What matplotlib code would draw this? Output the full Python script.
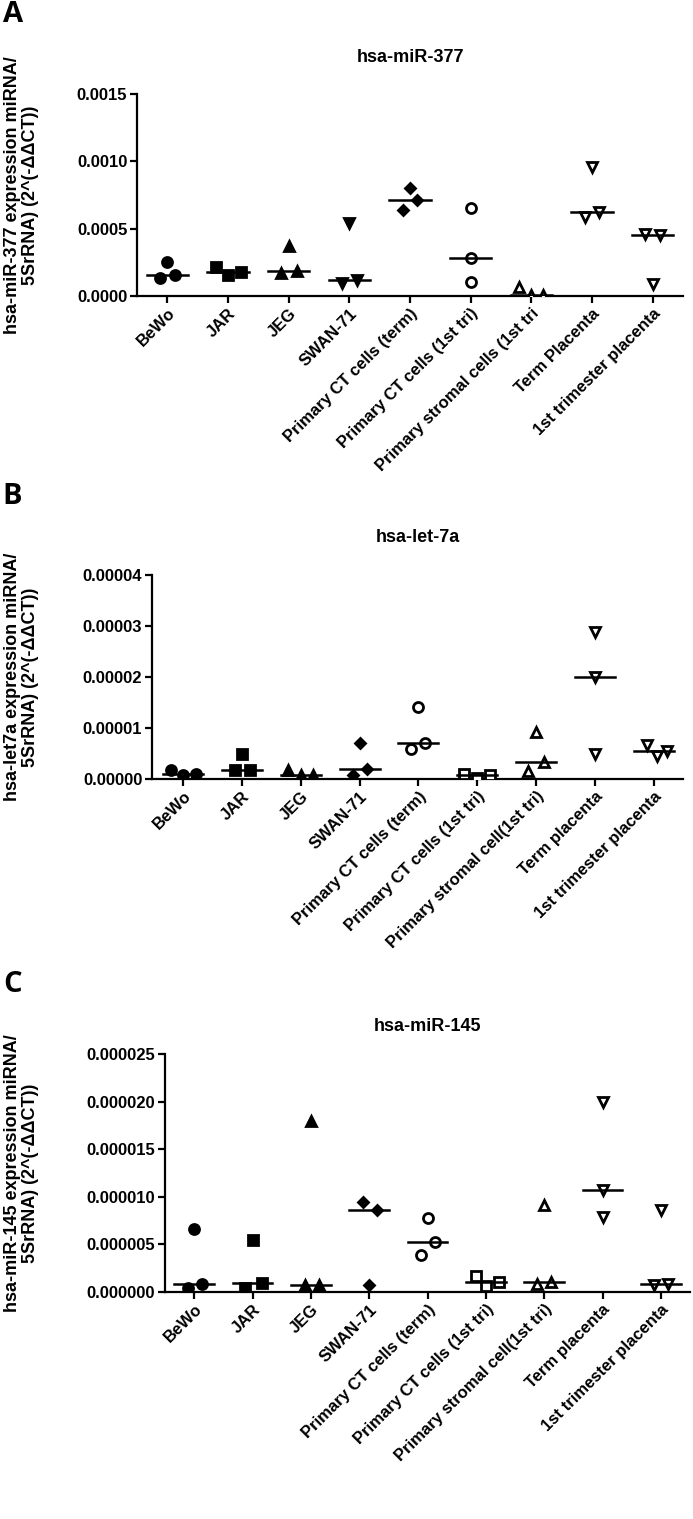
import numpy as np
import matplotlib
matplotlib.use('Agg')
import matplotlib.pyplot as plt

plt.rcParams['font.family'] = ['Liberation Sans', 'DejaVu Sans']
plt.rcParams['font.weight'] = 'bold'

labels_a = ['BeWo', 'JAR', 'JEG', 'SWAN-71', 'Primary CT cells (term)',
            'Primary CT cells (1st tri)', 'Primary stromal cells (1st tri',
            'Term Placenta', '1st trimester placenta']
labels_bc = ['BeWo', 'JAR', 'JEG', 'SWAN-71', 'Primary CT cells (term)',
             'Primary CT cells (1st tri)', 'Primary stromal cell(1st tri)',
             'Term placenta', '1st trimester placenta']

# hsa-miR-377
mir377 = [[0.000256, 0.000131, 0.000153],
          [0.000213, 0.000153, 0.000176],
          [0.000369, 0.000171, 0.000187],
          [0.000540, 0.000098, 0.000122],
          [0.000800, 0.000640, 0.000716],
          [0.000656, 0.000282, 0.000102],
          [0.000064, 0.000004, 0.000011],
          [0.000956, 0.000584, 0.000624],
          [0.000460, 0.000453, 0.000087]]

# hsa-let-7a
let7a = [[0.0000017, 0.0000007, 0.0000009],
         [0.0000049, 0.0000017, 0.0000017],
         [0.0000018, 0.00000086, 0.00000086],
         [0.0000070, 0.00000074, 0.0000020],
         [0.0000141, 0.0000058, 0.0000071],
         [0.0000010, 0.0000002, 0.00000085],
         [0.0000093, 0.0000016, 0.0000034],
         [0.0000289, 0.0000200, 0.0000049],
         [0.0000066, 0.0000045, 0.0000054]]

# hsa-miR-145
mir145 = [[0.00000657, 0.00000042, 0.00000084],
          [0.0000055, 0.00000042, 0.00000094],
          [0.0000180, 0.00000077, 0.00000077],
          [0.00000944, 0.00000077, 0.0000086],
          [0.0000078, 0.0000039, 0.0000052],
          [0.00000164, 0.00000066, 0.0000010],
          [0.0000091, 0.0000008, 0.0000011],
          [0.0000200, 0.0000107, 0.0000079],
          [0.0000086, 0.00000077, 0.00000084]]

# horizontal spread of the points inside each group
off_a = [[0, -0.12, 0.13], [-0.2, 0, 0.22], [0, -0.12, 0.13], [0, -0.12, 0.12],
         [0, -0.12, 0.12], [0, 0, 0], [-0.2, 0, 0.2], [0, -0.12, 0.12], [-0.12, 0.12, 0]]
off_b = [[-0.2, 0, 0.22], [0, -0.12, 0.14], [-0.22, 0, 0.2], [0, -0.12, 0.12],
         [0, -0.12, 0.12], [-0.22, 0, 0.22], [0, -0.13, 0.13], [0, 0, 0], [-0.12, 0.05, 0.22]]
off_c = [[0, -0.11, 0.13], [0, -0.13, 0.16], [0, -0.1, 0.14], [-0.1, 0, 0.13],
         [0, -0.11, 0.13], [-0.17, 0, 0.23], [0, -0.12, 0.12], [0, 0, 0], [0, -0.12, 0.12]]

mk_a = ['o', 's', '^', 'v', 'D', 'o', '^', 'v', 'v']
fill_a = [1, 1, 1, 1, 1, 0, 0, 0, 0]
mk_bc = ['o', 's', '^', 'D', 'o', 's', '^', 'v', 'v']
fill_bc = [1, 1, 1, 1, 0, 0, 0, 0, 0]

fig = plt.figure(figsize=(6.93, 15.19), dpi=100)


def panel(rect, data, offs, mks, fills, labels, title, tpad, ylab, ymax, step, fmt,
          xlim, letter, ly):
    ax = fig.add_axes(rect)
    for i, vals in enumerate(data):
        for v, o in zip(vals, offs[i]):
            m = mks[i]
            ms = 5.5 if m == 'D' else 7.2
            ax.plot(i + o, v, marker=m, ms=ms, color='black',
                    mfc='black' if fills[i] else 'white', mec='black', mew=2,
                    linestyle='none', zorder=3)
        med = np.median(vals)
        ax.plot([i - 0.34, i + 0.34], [med, med], color='black', lw=1.8, zorder=4)
    ax.set_xlim(*xlim)
    ax.set_ylim(0, ymax)
    ticks = np.arange(0, ymax + step / 2, step)
    ax.set_yticks(ticks)
    ax.set_yticklabels([fmt % t for t in ticks], fontsize=12, fontweight='bold')
    ax.set_xticks(range(len(labels)))
    ax.set_xticklabels(labels, rotation=45, ha='right', rotation_mode='anchor',
                       fontsize=12, fontweight='bold')
    for s in ['top', 'right']:
        ax.spines[s].set_visible(False)
    for s in ['left', 'bottom']:
        ax.spines[s].set_linewidth(1.6)
    ax.tick_params(width=1.6, length=5, direction='out', pad=2)
    ax.annotate(title, xy=(0.5, 1), xycoords='axes fraction', xytext=(0, tpad),
                textcoords='offset points', ha='center', va='center',
                fontsize=13, fontweight='bold')
    cy = rect[1] + rect[3] / 2
    fig.text(0.031, cy, ylab, rotation=90, ha='center', va='center',
             fontsize=13, fontweight='bold', multialignment='center', linespacing=1.05)
    fig.text(0.004, ly, letter, ha='left', va='center', fontsize=21,
             fontweight='bold', family=['Open Sans', 'DejaVu Sans'])
    return ax


panel([137 / 693, 1 - 296 / 1519, 546 / 693, 202 / 1519], mir377, off_a, mk_a, fill_a,
      labels_a, 'hsa-miR-377', 26,
      'hsa-miR-377 expression miRNA/\n5SrRNA) (2^(-\u0394\u0394CT))',
      0.0015, 0.0005, '%.4f', (-0.5, 8.5), 'A', 1 - 15 / 1519)

panel([152 / 693, 1 - 779 / 1519, 531 / 693, 204 / 1519], let7a, off_b, mk_bc, fill_bc,
      labels_bc, 'hsa-let-7a', 27,
      'hsa-let7a expression miRNA/\n5SrRNA) (2^(-\u0394\u0394CT))',
      0.00004, 0.00001, '%.5f', (-0.53, 8.5), 'B', 1 - 497 / 1519)

panel([165 / 693, 1 - 1292 / 1519, 525 / 693, 238 / 1519], mir145, off_c, mk_bc, fill_bc,
      labels_bc, 'hsa-miR-145', 20,
      'hsa-miR-145 expression miRNA/\n5SrRNA) (2^(-\u0394\u0394CT))',
      0.000025, 0.000005, '%.6f', (-0.5, 8.5), 'C', 1 - 985 / 1519)

fig.savefig('out.png', dpi=100)
